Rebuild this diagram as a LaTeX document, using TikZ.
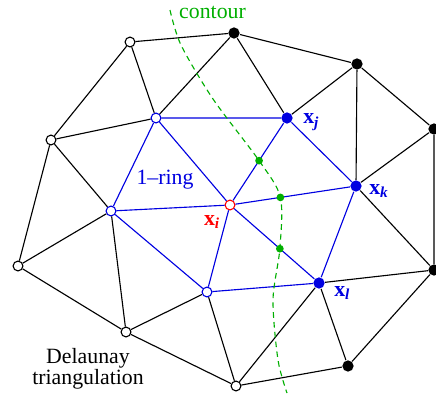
\documentclass[tikz,border=0pt]{standalone}
\usepackage{fontspec}
\setmainfont{Liberation Serif}
\usetikzlibrary{calc}

\definecolor{ringblue}{RGB}{0,0,225}
\definecolor{cgreen}{RGB}{0,175,0}

\begin{document}
\begin{tikzpicture}[x=0.025cm,y=-0.025cm,line width=0.8pt,
  every node/.style={font=\rmfamily\fontsize{15.5}{17}\selectfont},
  vopen/.style={circle,draw=black,fill=white,inner sep=0pt,minimum size=7pt,line width=0.8pt},
  vfull/.style={circle,fill=black,inner sep=0pt,minimum size=8pt},
  ropen/.style={vopen,draw=ringblue},
  rfull/.style={vfull,fill=ringblue},
  center/.style={vopen,draw=red},
  gdot/.style={circle,fill=cgreen,inner sep=0pt,minimum size=5.5pt},
  tri/.style={black},
  ring/.style={ringblue},
  contour/.style={cgreen,dash pattern=on 4pt off 3pt}]
\useasboundingbox (0,0) rectangle (436,396);
% ---------- outer vertices ----------
\node[vopen] (a) at (130,42) {};
\node[vfull] (b) at (234,33) {};
\node[vfull] (c) at (357,64) {};
\node[vfull] (d) at (434,129) {};
\node[vfull] (e) at (434,270) {};
\node[vfull] (f) at (348,366) {};
\node[vopen] (g) at (236,386) {};
\node[vopen] (h) at (126,332) {};
\node[vopen] (i) at (18,266) {};
\node[vopen] (j) at (51,140) {};
% ---------- 1-ring ----------
\node[ropen] (r1) at (156,118) {};
\node[ropen] (r2) at (111,211) {};
\node[ropen] (r3) at (207,292) {};
\node[center] (xi) at (230,205) {};
\node[rfull] (xj) at (287,118) {};
\node[rfull] (xk) at (356,186) {};
\node[rfull] (xl) at (319,283) {};
% ---------- black edges ----------
\draw[tri] (a) -- (b) -- (c) -- (d) -- (e) -- (f) -- (g) -- (h) -- (i) -- (j) -- (a);
\draw[tri] (a) -- (r1) (j) -- (r1) (r1) -- (b) (b) -- (xj) (c) -- (xj);
\draw[tri] (c) -- (xk) (d) -- (xk) (xk) -- (e) (xl) -- (e) (xl) -- (f);
\draw[tri] (xl) -- (g) (r3) -- (g) (r3) -- (h) (r2) -- (h) (r2) -- (i) (j) -- (r2);
% ---------- blue edges ----------
\draw[ring] (r1) -- (xj) -- (xk) -- (xl) -- (r3) -- (r2) -- (r1);
\draw[ring] (xi) -- (r1) (xi) -- (r2) (xi) -- (r3) (xi) -- (xl) (xi) -- (xk) (xi) -- (xj);
% ---------- contour ----------
\coordinate (c1) at ($(xi)!0.51!(xj)$);
\coordinate (c2) at ($(xi)!0.40!(xk)$);
\coordinate (c3) at ($(xi)!0.56!(xl)$);
\coordinate (ctop) at (170,10);
\coordinate (cbot) at (287,393);
\draw[contour] plot[smooth,tension=0.5] coordinates {(ctop) (181,45) (213,99) (c1) (c2) (c3) (273,300) (278,360) (cbot)};
\node[gdot] (d1) at (c1) {};
\node[gdot] (d2) at (c2) {};
\node[gdot] (d3) at (c3) {};
% ---------- labels ----------
\node[anchor=west,text=cgreen] (lcontour) at (174,12) {contour};
\node[anchor=west,text=ringblue] (lxj) at (298,122) {\textbf{x}\textsubscript{\bfseries\itshape j}};
\node[anchor=west,text=ringblue] (lxk) at (364,191) {\textbf{x}\textsubscript{\bfseries\itshape k}};
\node[anchor=west,text=ringblue] (lxl) at (329,293) {\textbf{x}\textsubscript{\bfseries\itshape l}};
\node[text=red] (lxi) at (212,222) {\textbf{x}\textsubscript{\bfseries\itshape i}};
\node[text=ringblue] (lring) at (165,180) {1\textendash ring};
\node[align=center,inner sep=0pt] (ldel) at (88,369) {Delaunay\\[-2pt]triangulation};
\end{tikzpicture}
\end{document}
